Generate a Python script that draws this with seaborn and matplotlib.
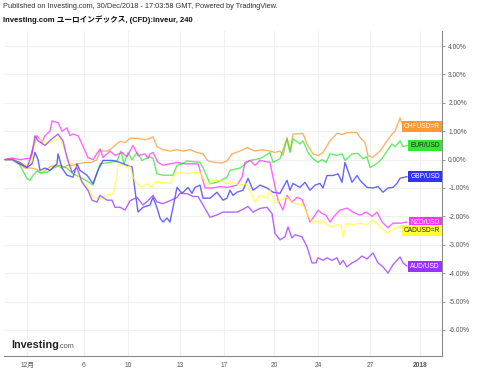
import numpy as np
import pandas as pd
import seaborn as sns
import matplotlib.pyplot as plt
import matplotlib.transforms as mtransforms

# time index (steps from first bar, weekends collapsed), values = % change
chf_t = [0, 7, 13, 20, 27, 32, 36, 40, 45, 52, 57, 63, 68, 73, 80, 87, 92, 95, 101, 105,
         110, 115, 120, 125, 132, 140, 145, 148, 152, 158, 165, 172, 178, 185, 192, 198, 203, 210, 217, 222,
         227, 235, 242, 250, 257, 265, 270, 275, 278, 282, 285, 288, 298, 302, 308, 313, 318, 325, 332, 337,
         342, 352, 355, 360, 363, 368, 375, 382, 387, 390, 395, 398, 402]
chf_v = [0, 0.05, -0.1, -0.3, -0.3, -0.35, -0.5, -0.4, -0.25, -0.2, -0.3, -0.2, -0.2, -0.15, -0.1, -0.1, 0.0, 0.3, 0.3, 0.35,
         0.5, 0.65, 0.6, 0.75, 0.75, 0.7, 0.75, 0.8, 0.45, 0.35, 0.3, 0.35, 0.3, 0.35, 0.25, 0.2, -0.05, -0.1, -0.12, -0.05,
         0.2, 0.3, 0.42, 0.3, 0.35, 0.3, 0.25, 0.3, 0.15, 0.77, 0.3, 0.9, 0.92, 0.55, 0.2, 0.14, 0.25, 0.66, 0.93, 0.88,
         0.95, 0.95, 0.78, 0.6, 0.14, 0.08, 0.3, 0.66, 0.9, 1.0, 1.47, 1.2, 1.15]

eur_t = [0, 7, 15, 22, 25, 28, 32, 35, 42, 48, 55, 62, 68, 75, 82, 88, 95, 105, 112, 116,
         119, 123, 127, 132, 137, 145, 148, 152, 158, 168, 172, 177, 182, 195, 198, 205, 212, 222, 225, 235,
         245, 255, 265, 268, 275, 282, 285, 288, 295, 298, 303, 308, 313, 317, 321, 325, 332, 337, 340, 347,
         353, 358, 362, 365, 372, 377, 382, 387, 390, 395, 398, 402]
eur_v = [0, 0.0, -0.2, -0.67, -0.73, -0.56, -0.4, -0.45, -0.45, -0.3, -0.2, -0.3, -0.5, -0.62, -0.75, -0.9, -0.15, -0.1, -0.05, 0.3,
         -0.15, 0.25, 0.0, 0.25, -0.03, 0.1, 0.05, -0.5, -0.55, -0.55, -0.2, -0.15, -0.05, -0.1, -0.28, -0.85, -0.8, -0.62, -0.38, -0.3,
         -0.03, 0.03, 0.25, -0.1, 0.03, 0.73, 0.25, 0.73, 0.55, 0.66, 0.25, 0.03, -0.1, 0.0, -0.1, 0.2, 0.15, 0.2, -0.03, 0.2,
         0.22, 0.03, 0.1, -0.28, -0.14, 0.03, 0.3, 0.55, 0.45, 0.66, 0.45, 0.5]

gbp_t = [0, 7, 15, 22, 27, 30, 33, 35, 40, 45, 52, 53, 57, 62, 68, 72, 75, 82, 88, 93,
         98, 108, 115, 122, 127, 130, 133, 138, 145, 148, 152, 155, 158, 162, 165, 168, 172, 177, 183, 187,
         190, 195, 198, 205, 212, 218, 222, 225, 228, 232, 238, 243, 248, 255, 262, 268, 275, 282, 285, 288,
         295, 300, 305, 310, 315, 318, 322, 328, 333, 337, 340, 343, 347, 352, 355, 362, 368, 373, 378, 383,
         388, 392, 395, 402]
gbp_v = [0, 0.0, -0.15, -0.28, -0.15, 0.25, 0.0, -0.38, -0.3, -0.38, -0.15, 0.2, -0.3, -0.55, -0.62, -0.15, -0.38, -0.55, -0.85, -0.38,
         -0.03, -0.03, -0.1, -0.2, -0.25, -1.08, -1.85, -1.68, -1.6, -1.33, -1.7, -2.06, -2.2, -2.06, -2.2, -1.68, -0.98, -1.19, -0.98, -1.19,
         -0.98, -0.9, -1.36, -1.36, -1.15, -1.43, -1.36, -1.08, -1.26, -1.15, -1.08, -0.66, -1.08, -0.9, -1.0, -1.15, -1.19, -0.73, -1.08, -0.84,
         -0.98, -0.8, -1.08, -0.9, -0.84, -1.0, -0.56, -0.56, -0.5, -0.8, -0.1, -0.4, -0.8, -0.56, -0.73, -0.98, -1.0, -0.95, -1.15, -1.0,
         -0.98, -0.84, -0.66, -0.6]

nzd_t = [0, 7, 15, 25, 28, 32, 37, 40, 45, 47, 53, 57, 62, 65, 68, 73, 77, 83, 88, 95,
         98, 105, 110, 117, 122, 128, 133, 140, 143, 145, 148, 153, 158, 165, 172, 180, 193, 197, 200, 208,
         215, 222, 232, 237, 240, 245, 250, 255, 265, 268, 273, 278, 282, 287, 292, 297, 300, 305, 310, 313,
         317, 321, 325, 330, 335, 342, 348, 355, 361, 367, 372, 377, 383, 388, 395, 402]
nzd_v = [0, 0.05, 0.0, 0.05, 0.42, 0.84, 0.6, 0.84, 1.0, 1.36, 1.3, 1.0, 1.12, 0.84, 0.9, 0.84, 0.55, 0.07, 0.0, 0.38,
         0.07, 0.3, 0.15, 0.25, 0.1, 0.5, 0.14, 0.2, 0.05, 0.2, 0.25, -0.1, -0.2, -0.15, -0.1, -0.15, -0.15, -0.62, -1.0, -1.0,
         -0.95, -0.98, -0.9, -0.62, -0.1, -0.03, -0.2, -0.03, -0.1, -0.62, -1.43, -1.78, -1.26, -1.5, -1.33, -1.4, -1.68, -2.2, -1.96, -1.78,
         -1.9, -1.96, -2.2, -1.96, -1.78, -1.71, -1.85, -1.96, -1.85, -2.0, -1.85, -2.2, -2.4, -2.24, -2.24, -2.2]

cad_t = [0, 7, 15, 22, 27, 30, 35, 42, 48, 55, 60, 63, 67, 72, 75, 82, 88, 95, 102, 108,
         112, 113, 118, 122, 125, 128, 132, 137, 142, 147, 150, 158, 165, 170, 175, 182, 188, 195, 198, 203,
         208, 215, 222, 228, 235, 242, 247, 250, 255, 262, 265, 270, 275, 282, 288, 298, 302, 307, 312, 315,
         318, 322, 327, 332, 336, 338, 342, 348, 355, 362, 368, 375, 382, 388, 395, 402]
cad_v = [0, 0.0, -0.1, -0.2, -0.05, 0.77, 0.7, 0.55, 0.65, 0.77, 0.3, 0.0, -0.15, -0.3, -0.73, -0.9, -1.33, -1.36, -1.26, -1.2,
         -0.62, -0.15, -0.2, -0.28, -0.2, -0.62, -0.85, -0.98, -0.85, -0.98, -0.8, -0.8, -0.85, -0.5, -0.45, -0.5, -0.45, -0.45, -0.65, -0.9,
         -0.73, -0.73, -0.85, -0.8, -0.9, -0.85, -1.26, -1.5, -1.26, -1.36, -1.08, -1.54, -1.43, -1.33, -1.54, -1.6, -1.9, -2.2, -2.15, -2.25,
         -2.15, -2.3, -2.37, -2.3, -2.3, -2.72, -2.24, -2.3, -2.24, -2.3, -2.13, -2.35, -2.6, -2.45, -2.37, -2.5]

aud_t = [0, 7, 15, 22, 27, 30, 33, 40, 47, 53, 58, 62, 67, 72, 77, 83, 87, 92, 95, 102,
         107, 110, 115, 120, 125, 128, 132, 138, 143, 148, 152, 158, 165, 172, 175, 182, 188, 193, 198, 205,
         212, 218, 232, 238, 243, 248, 255, 262, 267, 270, 275, 280, 283, 287, 290, 297, 302, 307, 311, 313,
         318, 322, 327, 332, 335, 338, 342, 347, 352, 357, 362, 368, 373, 378, 383, 388, 395, 398, 402]
aud_v = [0, 0.0, -0.1, -0.28, 0.2, 0.84, 0.66, 0.5, 0.73, 0.9, 0.66, 0.07, -0.45, -0.28, -0.8, -1.08, -1.43, -1.5, -1.26, -1.43,
         -1.43, -1.68, -1.68, -1.78, -1.45, -1.4, -1.33, -1.6, -1.45, -1.26, -1.5, -1.55, -1.45, -1.33, -1.19, -1.2, -1.3, -1.3, -1.6, -2.03,
         -1.95, -1.85, -1.85, -1.75, -1.65, -1.85, -1.72, -1.68, -1.9, -2.6, -2.83, -2.72, -2.37, -2.76, -2.65, -2.72, -3.07, -3.64, -3.64, -3.46,
         -3.55, -3.46, -3.55, -3.46, -3.7, -3.55, -3.78, -3.64, -3.55, -3.4, -3.5, -3.29, -3.64, -3.78, -4.0, -3.7, -3.43, -3.64, -3.75]

pairs = ['CHFUSD=R', 'EUR/USD', 'GBP/USD', 'NZD/USD', 'CADUSD=R', 'AUD/USD']
series = [(chf_t, chf_v), (eur_t, eur_v), (gbp_t, gbp_v), (nzd_t, nzd_v), (cad_t, cad_v), (aud_t, aud_v)]
line_colors = {'CHFUSD=R': '#ff9933', 'EUR/USD': '#33e633', 'GBP/USD': '#3333ff',
               'NZD/USD': '#ff33ff', 'CADUSD=R': '#ffff33', 'AUD/USD': '#9933ff'}
label_text_colors = {'CHFUSD=R': 'white', 'EUR/USD': '#222222', 'GBP/USD': 'white',
                     'NZD/USD': 'white', 'CADUSD=R': '#222222', 'AUD/USD': 'white'}

x_ticks = [22, 79, 123, 175, 219, 269, 313, 365, 415]
x_labels = ['12月', '6', '10', '13', '17', '20', '24', '27', '2018']
y_ticks = [4, 3, 2, 1, 0, -1, -2, -3, -4, -5, -6]

frames = []
for name, (t, v) in zip(pairs, series):
    frames.append(pd.DataFrame({'t': t, 'change': v, 'pair': name}))
df = pd.concat(frames, ignore_index=True)

sns.set_style('white')
plt.rcParams['font.family'] = ['Liberation Sans', 'Noto Sans CJK JP', 'DejaVu Sans']

fig = plt.figure(figsize=(4.8, 3.69), dpi=100)
ax = fig.add_axes([4 / 480, 1 - 356 / 369, 438 / 480, 325 / 369])

sns.lineplot(data=df, x='t', y='change', hue='pair', palette=line_colors,
             estimator=None, sort=False, lw=1.0, alpha=0.75, legend=False, ax=ax)

ax.set_xlim(-1, 437)
ax.set_ylim(-6.92, 4.53)
ax.set_xticks(x_ticks)
ax.set_xticklabels(x_labels)
ax.set_yticks(y_ticks)
ax.set_yticklabels([f'{v:.2f}%' for v in y_ticks])
ax.yaxis.tick_right()
ax.set_xlabel('')
ax.set_ylabel('')
ax.grid(True, color='#f0f0f0', lw=0.8)
ax.set_axisbelow(True)
for side in ['left', 'top']:
    ax.spines[side].set_visible(False)
for side in ['right', 'bottom']:
    ax.spines[side].set_color('#8a8a8a')
    ax.spines[side].set_linewidth(0.8)
ax.tick_params(axis='both', length=2.5, width=0.6, color='#8a8a8a',
               labelsize=4.8, labelcolor='#555555', pad=2)
ax.get_xticklabels()[-1].set_fontweight('bold')

# value labels at the right edge
trans = mtransforms.blended_transform_factory(ax.transAxes, ax.transData)
for name, (t, v) in zip(pairs, series):
    ax.annotate(name, xy=(1.0, v[-1]), xycoords=trans, xytext=(-1.5, 0),
                textcoords='offset points', ha='right', va='center',
                fontsize=4.8, color=label_text_colors[name],
                bbox=dict(boxstyle='square,pad=0.3', fc=line_colors[name], ec='none'))

fig.text(3 / 480, 1 - 7 / 369,
         'Published on Investing.com, 30/Dec/2018 - 17:03:58 GMT, Powered by TradingView.',
         fontsize=5.3, color='#333333', va='center')
fig.text(3 / 480, 1 - 20 / 369, 'Investing.com ユーロインデックス, (CFD):inveur, 240',
         fontsize=5.5, fontweight='bold', color='#111111', va='center',
         family=['Liberation Sans', 'Noto Sans CJK JP'])

fig.text(11 / 480, 1 - 345 / 369, 'Investing', fontsize=7.8, fontweight='bold',
         color='#222222', va='center')
fig.text(58 / 480, 1 - 346 / 369, '.com', fontsize=5.3, color='#555555', va='center')

fig.savefig('out.png', dpi=100)
